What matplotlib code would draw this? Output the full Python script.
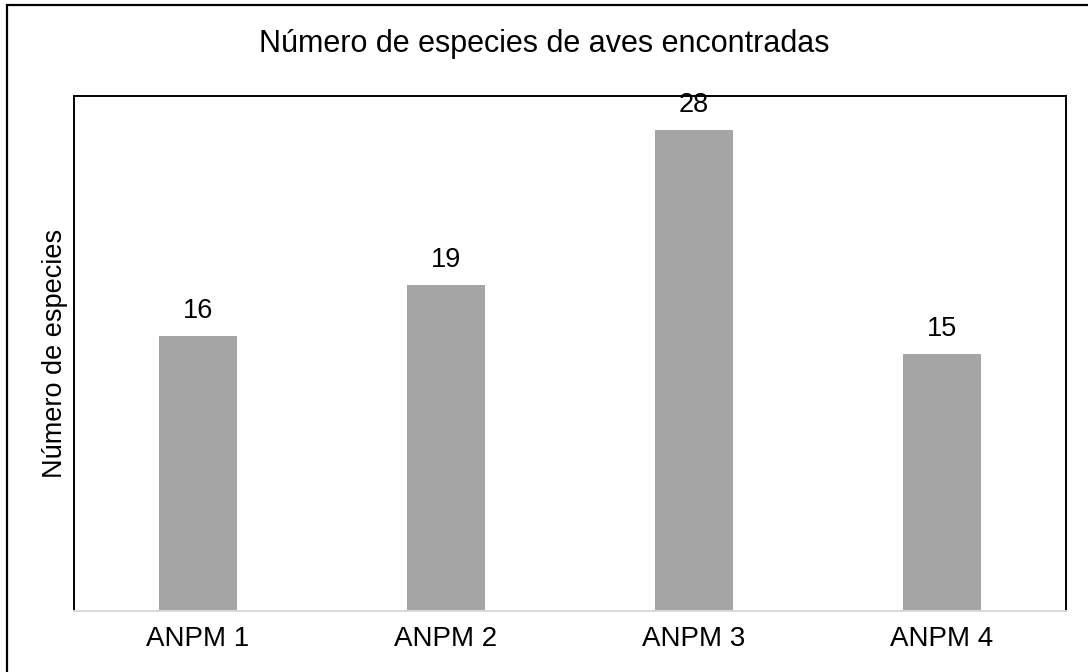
import matplotlib.pyplot as plt
from matplotlib.patches import Rectangle

sites = ["ANPM 1", "ANPM 2", "ANPM 3", "ANPM 4"]
species = [16, 19, 28, 15]

plt.rcParams['font.family'] = ['Liberation Sans', 'DejaVu Sans']

W, H = 1088, 672
fig = plt.figure(figsize=(W / 100, H / 100), dpi=100)
ax = fig.add_axes([74 / W, (H - 611) / H, (1066 - 74) / W, (611 - 96) / H])

x = range(len(sites))
bars = ax.bar(x, species, width=0.315, color="#a5a5a5", zorder=2)
for xi, v in zip(x, species):
    ax.annotate(str(v), (xi, v), xytext=(0, 18), textcoords="offset points",
                ha="center", va="center", fontsize=19.5)

ax.set_xlim(-0.5, len(sites) - 0.5)
ax.set_ylim(0, 30)
ax.set_xticks(list(x))
ax.set_xticklabels(sites, fontsize=20)
ax.set_yticks([])
ax.tick_params(axis="x", length=0, pad=11)
ax.set_ylabel("Número de especies", fontsize=19.5, labelpad=4)

for s in ["left", "top", "right"]:
    ax.spines[s].set_color("black")
    ax.spines[s].set_linewidth(1.4)
ax.spines["bottom"].set_color("#d9d9d9")
ax.spines["bottom"].set_linewidth(1.4)

fig.text(0.5, (H - 44) / H, "Número de especies de aves encontradas",
         ha="center", va="center", fontsize=22)

# outer frame (right/bottom edges fall outside the picture)
fig.patches.append(Rectangle((7 / W, -0.1), 2, (H - 5) / H + 0.1,
                             transform=fig.transFigure, fill=False,
                             edgecolor="black", linewidth=1.6))

fig.savefig("out.png", dpi=100)
